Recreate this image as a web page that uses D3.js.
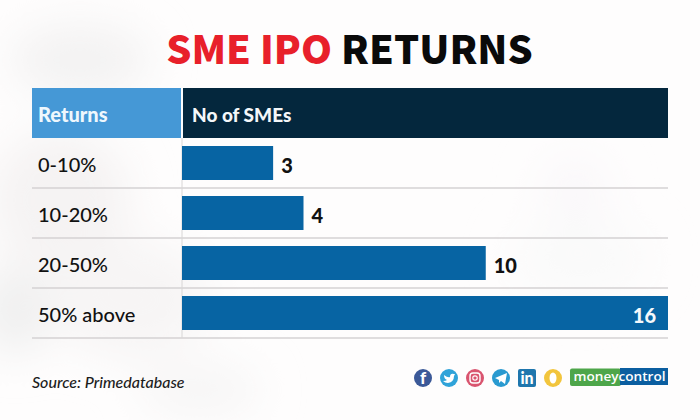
<!DOCTYPE html>
<html><head><meta charset="utf-8">
<script src="https://cdn.jsdelivr.net/npm/d3@7"></script>
<style>html,body{margin:0;padding:0;background:#fff}svg{display:block}text{font-family:Lato,sans-serif}</style>
</head><body><svg id="c" width="700" height="420"></svg>
<script>
const categories=["0-10%","10-20%","20-50%","50% above"];
const values=[3,4,10,16];
const headers=["Returns","No of SMEs"];
const titleParts=["SME IPO ","RETURNS"];
const source="Source: Primedatabase";
const iconColors=["#3b5998","#2fa3d9","#d9546f","#2a9ad0","#1f76ad","#f2c53d"];
const iconGlyphs=["f","","","","in",""];

const svg=d3.select("#c");
const defs=svg.append("defs");
defs.append("filter").attr("id","blur").append("feGaussianBlur").attr("stdDeviation",22);
const W=700;
svg.append("rect").attr("width",W).attr("height",420).attr("fill","#fefdfd");
// soft background smudges
const bg=svg.append("g").attr("filter","url(#blur)");
[[80,60,70,35,"#f3f2f2"],[60,200,70,70,"#f5f3f3"],[15,310,35,45,"#efefef"],[130,300,80,60,"#f7f5f5"],[200,390,60,25,"#f6f5f5"],[575,190,35,35,"#faf8fa"],[580,260,70,40,"#fafafa"]]
 .forEach(d=>bg.append("ellipse").attr("cx",d[0]).attr("cy",d[1]).attr("rx",d[2]).attr("ry",d[3]).attr("fill",d[4]));

// title
const t=svg.append("text").attr("x",349.5).attr("y",64).attr("text-anchor","middle")
 .attr("font-size",39.5).attr("font-weight",900).style("font-family","'Noto Sans CJK SC'");
t.append("tspan").attr("fill","#e8202a").text(titleParts[0]);
t.append("tspan").attr("fill","#0a0a0a").text(titleParts[1]);

// scales
const x=d3.scaleLinear().domain([0,16]).range([182,668]);
const y=d3.scaleBand().domain(categories).range([138.5,338.5]);
const barPad=8;

// header
svg.append("rect").attr("x",32).attr("y",88).attr("width",149).attr("height",50).attr("fill","#4598d6");
svg.append("rect").attr("x",183).attr("y",88).attr("width",485).attr("height",50).attr("fill","#04273d");
svg.append("text").attr("x",38).attr("y",122).attr("fill","#eef7fd").attr("font-size",20).attr("font-weight",900).text(headers[0]);
svg.append("text").attr("x",192).attr("y",122).attr("fill","#f4f7f9").attr("font-size",19).attr("font-weight",900).text(headers[1]);

// rules
svg.selectAll("line.rule").data(categories).join("line").attr("class","rule")
 .attr("x1",32).attr("x2",668).attr("y1",d=>y(d)+y.bandwidth()-.5).attr("y2",d=>y(d)+y.bandwidth()-.5)
 .attr("stroke","#d4d2d3").attr("stroke-width",1.4);
svg.append("line").attr("x1",182).attr("x2",182).attr("y1",138).attr("y2",338).attr("stroke","#d8d6d6").attr("stroke-width",1);

// bars
svg.selectAll("rect.bar").data(values).join("rect").attr("class","bar")
 .attr("x",x(0)).attr("y",(d,i)=>y(categories[i])+barPad-.5).attr("width",d=>x(d)-x(0))
 .attr("height",y.bandwidth()-2*barPad).attr("fill","#0764a3");

// labels
svg.selectAll("text.cat").data(categories).join("text").attr("class","cat")
 .attr("x",38).attr("y",d=>y(d)+y.bandwidth()/2+8).attr("font-size",20).attr("font-weight",500).attr("fill","#111").text(d=>d);
svg.selectAll("text.val").data(values).join("text").attr("class","val")
 .attr("x",d=>d===16?x(d)-12:x(d)+8)
 .attr("text-anchor",d=>d===16?"end":"start")
 .attr("y",(d,i)=>y(categories[i])+y.bandwidth()/2+9.5).attr("font-size",20).attr("font-weight",900)
 .attr("fill",d=>d===16?"#f4f8fb":"#111").text(d=>d);

// source
svg.append("text").attr("x",32).attr("y",388).attr("font-size",16).attr("font-weight",500).attr("font-style","italic").attr("fill","#1c1c1c").text(source);

// icons
const iconX=d3.scalePoint().domain(d3.range(iconColors.length)).range([423,553]);
const ic=svg.selectAll("g.icon").data(iconColors).join("g").attr("class","icon").attr("transform",(d,i)=>`translate(${iconX(i)},378)`);
ic.each(function(d,i){
 const g=d3.select(this);
 if(i===4) g.append("rect").attr("x",-9).attr("y",-9).attr("width",18).attr("height",18).attr("rx",2).attr("fill",d);
 else g.append("circle").attr("r",9).attr("fill",d);
 if(iconGlyphs[i]) g.append("text").attr("text-anchor","middle").attr("y",6).attr("font-size",i===4?16:17).attr("font-weight",900).attr("fill","#fff").text(iconGlyphs[i]);
 if(i===1) g.append("path").attr("d","M-5,-3 Q-1,0 1,-1 Q1,-5 5,-4 L6,-4 L5,-2 Q5,4 -1,5 Q-4,5 -6,3 Q-3,3 -2,2 Q-5,1 -5,-3Z").attr("fill","#fff");
 if(i===2){ g.append("rect").attr("x",-5).attr("y",-5).attr("width",10).attr("height",10).attr("rx",3).attr("fill","none").attr("stroke","#fff").attr("stroke-width",1.4);
  g.append("circle").attr("r",2.2).attr("fill","none").attr("stroke","#fff").attr("stroke-width",1.2);}
 if(i===3) g.append("path").attr("d","M-6,0 L6,-5 L4,6 L0,3 L-2,5 L-2,2 Z").attr("fill","#fff");
 if(i===5) g.append("ellipse").attr("rx",3.5).attr("ry",5.5).attr("fill","#fff");
});

// moneycontrol logo
svg.append("rect").attr("x",570).attr("y",368.5).attr("width",51).attr("height",17.5).attr("rx",2).attr("fill","#4ea64a");
svg.append("rect").attr("x",620).attr("y",368).attr("width",48).attr("height",17).attr("fill","#0b5ea0");
svg.append("text").attr("x",573.5).attr("y",381).attr("font-size",13).attr("font-weight",600).attr("fill","#fff").style("font-family","'Open Sans'")
 .attr("textLength",92).attr("lengthAdjust","spacingAndGlyphs").text("moneycontrol");
</script></body></html>
